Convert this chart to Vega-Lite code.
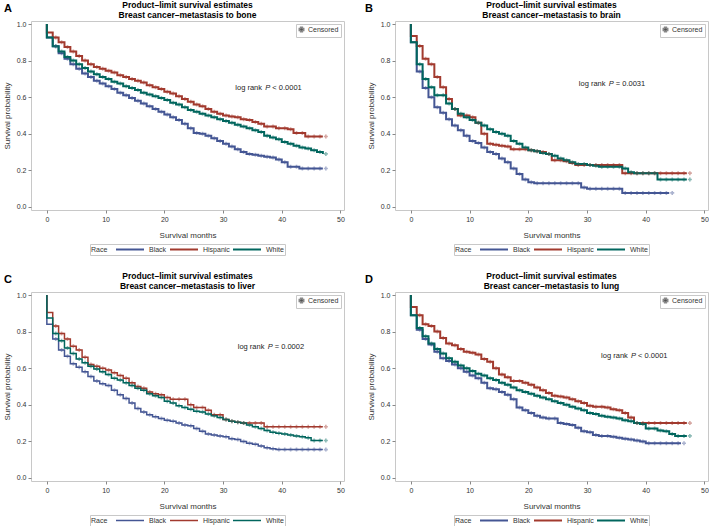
{
"$schema":"https://vega.github.io/schema/vega-lite/v6.json",
"background":"white",
"padding":{"left":2,"top":0,"right":0,"bottom":0},
"columns":2,
"spacing":{"column":19,"row":15},
"resolve":{"scale":{"color":"independent","shape":"independent"},"legend":{"color":"independent","shape":"independent"}},
"datasets":{
"A":[
{"r":"Black","t":0,"s":1},{"r":"Black","t":0,"s":0.927},{"r":"Black","t":1,"s":0.878},{"r":"Black","t":2,"s":0.84},{"r":"Black","t":3,"s":0.81},{"r":"Black","t":4,"s":0.78},{"r":"Black","t":5,"s":0.755},{"r":"Black","t":6,"s":0.73},{"r":"Black","t":7,"s":0.71},{"r":"Black","t":8,"s":0.69},{"r":"Black","t":9,"s":0.675},{"r":"Black","t":10,"s":0.66},{"r":"Black","t":11,"s":0.645},{"r":"Black","t":12,"s":0.625},{"r":"Black","t":13,"s":0.61},{"r":"Black","t":14,"s":0.595},{"r":"Black","t":15,"s":0.58},{"r":"Black","t":16,"s":0.565},{"r":"Black","t":17,"s":0.55},{"r":"Black","t":18,"s":0.535},{"r":"Black","t":19,"s":0.52},{"r":"Black","t":20,"s":0.505},{"r":"Black","t":21,"s":0.49},{"r":"Black","t":22,"s":0.475},{"r":"Black","t":23,"s":0.455},{"r":"Black","t":24,"s":0.43},{"r":"Black","t":25,"s":0.405},{"r":"Black","t":26,"s":0.4},{"r":"Black","t":27,"s":0.39},{"r":"Black","t":28,"s":0.375},{"r":"Black","t":29,"s":0.36},{"r":"Black","t":30,"s":0.345},{"r":"Black","t":31,"s":0.33},{"r":"Black","t":32,"s":0.315},{"r":"Black","t":33,"s":0.3},{"r":"Black","t":34,"s":0.29},{"r":"Black","t":35,"s":0.285},{"r":"Black","t":36,"s":0.28},{"r":"Black","t":37,"s":0.275},{"r":"Black","t":38,"s":0.27},{"r":"Black","t":39,"s":0.26},{"r":"Black","t":40,"s":0.245},{"r":"Black","t":41,"s":0.22},{"r":"Black","t":42,"s":0.22},{"r":"Black","t":43,"s":0.21},{"r":"Black","t":44,"s":0.21},{"r":"Black","t":45,"s":0.21},{"r":"Black","t":46,"s":0.21},{"r":"Black","t":47,"s":0.21},
{"r":"Hispanic","t":0,"s":1},{"r":"Hispanic","t":0,"s":0.954},{"r":"Hispanic","t":1,"s":0.927},{"r":"Hispanic","t":2,"s":0.9},{"r":"Hispanic","t":3,"s":0.875},{"r":"Hispanic","t":4,"s":0.85},{"r":"Hispanic","t":5,"s":0.825},{"r":"Hispanic","t":6,"s":0.8},{"r":"Hispanic","t":7,"s":0.78},{"r":"Hispanic","t":8,"s":0.765},{"r":"Hispanic","t":9,"s":0.755},{"r":"Hispanic","t":10,"s":0.745},{"r":"Hispanic","t":11,"s":0.735},{"r":"Hispanic","t":12,"s":0.72},{"r":"Hispanic","t":13,"s":0.71},{"r":"Hispanic","t":14,"s":0.7},{"r":"Hispanic","t":15,"s":0.69},{"r":"Hispanic","t":16,"s":0.68},{"r":"Hispanic","t":17,"s":0.665},{"r":"Hispanic","t":18,"s":0.655},{"r":"Hispanic","t":19,"s":0.645},{"r":"Hispanic","t":20,"s":0.63},{"r":"Hispanic","t":21,"s":0.62},{"r":"Hispanic","t":22,"s":0.605},{"r":"Hispanic","t":23,"s":0.59},{"r":"Hispanic","t":24,"s":0.575},{"r":"Hispanic","t":25,"s":0.56},{"r":"Hispanic","t":26,"s":0.55},{"r":"Hispanic","t":27,"s":0.535},{"r":"Hispanic","t":28,"s":0.52},{"r":"Hispanic","t":29,"s":0.51},{"r":"Hispanic","t":30,"s":0.5},{"r":"Hispanic","t":31,"s":0.495},{"r":"Hispanic","t":32,"s":0.49},{"r":"Hispanic","t":33,"s":0.48},{"r":"Hispanic","t":34,"s":0.475},{"r":"Hispanic","t":35,"s":0.465},{"r":"Hispanic","t":36,"s":0.455},{"r":"Hispanic","t":37,"s":0.44},{"r":"Hispanic","t":38,"s":0.44},{"r":"Hispanic","t":39,"s":0.43},{"r":"Hispanic","t":40,"s":0.43},{"r":"Hispanic","t":41,"s":0.425},{"r":"Hispanic","t":42,"s":0.405},{"r":"Hispanic","t":43,"s":0.405},{"r":"Hispanic","t":44,"s":0.385},{"r":"Hispanic","t":45,"s":0.385},{"r":"Hispanic","t":46,"s":0.385},{"r":"Hispanic","t":47,"s":0.385},
{"r":"White","t":0,"s":1},{"r":"White","t":0,"s":0.927},{"r":"White","t":1,"s":0.878},{"r":"White","t":2,"s":0.85},{"r":"White","t":3,"s":0.82},{"r":"White","t":4,"s":0.8},{"r":"White","t":5,"s":0.78},{"r":"White","t":6,"s":0.76},{"r":"White","t":7,"s":0.74},{"r":"White","t":8,"s":0.725},{"r":"White","t":9,"s":0.71},{"r":"White","t":10,"s":0.7},{"r":"White","t":11,"s":0.685},{"r":"White","t":12,"s":0.675},{"r":"White","t":13,"s":0.66},{"r":"White","t":14,"s":0.65},{"r":"White","t":15,"s":0.64},{"r":"White","t":16,"s":0.625},{"r":"White","t":17,"s":0.615},{"r":"White","t":18,"s":0.605},{"r":"White","t":19,"s":0.595},{"r":"White","t":20,"s":0.585},{"r":"White","t":21,"s":0.57},{"r":"White","t":22,"s":0.56},{"r":"White","t":23,"s":0.545},{"r":"White","t":24,"s":0.53},{"r":"White","t":25,"s":0.52},{"r":"White","t":26,"s":0.51},{"r":"White","t":27,"s":0.5},{"r":"White","t":28,"s":0.49},{"r":"White","t":29,"s":0.48},{"r":"White","t":30,"s":0.47},{"r":"White","t":31,"s":0.46},{"r":"White","t":32,"s":0.45},{"r":"White","t":33,"s":0.44},{"r":"White","t":34,"s":0.43},{"r":"White","t":35,"s":0.42},{"r":"White","t":36,"s":0.41},{"r":"White","t":37,"s":0.39},{"r":"White","t":38,"s":0.38},{"r":"White","t":39,"s":0.37},{"r":"White","t":40,"s":0.355},{"r":"White","t":41,"s":0.345},{"r":"White","t":42,"s":0.335},{"r":"White","t":43,"s":0.325},{"r":"White","t":44,"s":0.32},{"r":"White","t":45,"s":0.31},{"r":"White","t":46,"s":0.3},{"r":"White","t":47,"s":0.29}
],
"B":[
{"r":"Black","t":0,"s":1},{"r":"Black","t":0,"s":0.9},{"r":"Black","t":1,"s":0.74},{"r":"Black","t":2,"s":0.65},{"r":"Black","t":3,"s":0.6},{"r":"Black","t":4,"s":0.545},{"r":"Black","t":5,"s":0.515},{"r":"Black","t":6,"s":0.48},{"r":"Black","t":7,"s":0.445},{"r":"Black","t":8,"s":0.42},{"r":"Black","t":9,"s":0.39},{"r":"Black","t":10,"s":0.36},{"r":"Black","t":11,"s":0.35},{"r":"Black","t":12,"s":0.325},{"r":"Black","t":13,"s":0.3},{"r":"Black","t":14,"s":0.29},{"r":"Black","t":15,"s":0.265},{"r":"Black","t":16,"s":0.245},{"r":"Black","t":17,"s":0.21},{"r":"Black","t":18,"s":0.18},{"r":"Black","t":19,"s":0.15},{"r":"Black","t":20,"s":0.135},{"r":"Black","t":21,"s":0.13},{"r":"Black","t":22,"s":0.13},{"r":"Black","t":23,"s":0.13},{"r":"Black","t":24,"s":0.13},{"r":"Black","t":25,"s":0.13},{"r":"Black","t":26,"s":0.13},{"r":"Black","t":27,"s":0.13},{"r":"Black","t":28,"s":0.13},{"r":"Black","t":29,"s":0.107},{"r":"Black","t":30,"s":0.1},{"r":"Black","t":31,"s":0.1},{"r":"Black","t":32,"s":0.1},{"r":"Black","t":33,"s":0.1},{"r":"Black","t":34,"s":0.1},{"r":"Black","t":35,"s":0.1},{"r":"Black","t":36,"s":0.077},{"r":"Black","t":37,"s":0.077},{"r":"Black","t":38,"s":0.077},{"r":"Black","t":39,"s":0.077},{"r":"Black","t":40,"s":0.077},{"r":"Black","t":41,"s":0.077},{"r":"Black","t":42,"s":0.077},{"r":"Black","t":43,"s":0.077},{"r":"Black","t":44,"s":0.077},
{"r":"Hispanic","t":0,"s":1},{"r":"Hispanic","t":0,"s":0.935},{"r":"Hispanic","t":1,"s":0.88},{"r":"Hispanic","t":2,"s":0.81},{"r":"Hispanic","t":3,"s":0.78},{"r":"Hispanic","t":4,"s":0.71},{"r":"Hispanic","t":5,"s":0.655},{"r":"Hispanic","t":6,"s":0.59},{"r":"Hispanic","t":7,"s":0.535},{"r":"Hispanic","t":8,"s":0.5},{"r":"Hispanic","t":9,"s":0.5},{"r":"Hispanic","t":10,"s":0.49},{"r":"Hispanic","t":11,"s":0.46},{"r":"Hispanic","t":12,"s":0.4},{"r":"Hispanic","t":13,"s":0.345},{"r":"Hispanic","t":14,"s":0.34},{"r":"Hispanic","t":15,"s":0.335},{"r":"Hispanic","t":16,"s":0.33},{"r":"Hispanic","t":17,"s":0.315},{"r":"Hispanic","t":18,"s":0.315},{"r":"Hispanic","t":19,"s":0.315},{"r":"Hispanic","t":20,"s":0.31},{"r":"Hispanic","t":21,"s":0.305},{"r":"Hispanic","t":22,"s":0.3},{"r":"Hispanic","t":23,"s":0.29},{"r":"Hispanic","t":24,"s":0.255},{"r":"Hispanic","t":25,"s":0.255},{"r":"Hispanic","t":26,"s":0.25},{"r":"Hispanic","t":27,"s":0.24},{"r":"Hispanic","t":28,"s":0.23},{"r":"Hispanic","t":29,"s":0.23},{"r":"Hispanic","t":30,"s":0.23},{"r":"Hispanic","t":31,"s":0.23},{"r":"Hispanic","t":32,"s":0.23},{"r":"Hispanic","t":33,"s":0.23},{"r":"Hispanic","t":34,"s":0.23},{"r":"Hispanic","t":35,"s":0.23},{"r":"Hispanic","t":36,"s":0.185},{"r":"Hispanic","t":37,"s":0.185},{"r":"Hispanic","t":38,"s":0.185},{"r":"Hispanic","t":39,"s":0.185},{"r":"Hispanic","t":40,"s":0.185},{"r":"Hispanic","t":41,"s":0.185},{"r":"Hispanic","t":42,"s":0.185},{"r":"Hispanic","t":43,"s":0.185},{"r":"Hispanic","t":44,"s":0.185},{"r":"Hispanic","t":45,"s":0.185},{"r":"Hispanic","t":46,"s":0.185},{"r":"Hispanic","t":47,"s":0.185},
{"r":"White","t":0,"s":1},{"r":"White","t":0,"s":0.9},{"r":"White","t":1,"s":0.78},{"r":"White","t":2,"s":0.7},{"r":"White","t":3,"s":0.655},{"r":"White","t":4,"s":0.61},{"r":"White","t":5,"s":0.61},{"r":"White","t":6,"s":0.565},{"r":"White","t":7,"s":0.535},{"r":"White","t":8,"s":0.51},{"r":"White","t":9,"s":0.49},{"r":"White","t":10,"s":0.475},{"r":"White","t":11,"s":0.46},{"r":"White","t":12,"s":0.445},{"r":"White","t":13,"s":0.425},{"r":"White","t":14,"s":0.41},{"r":"White","t":15,"s":0.4},{"r":"White","t":16,"s":0.39},{"r":"White","t":17,"s":0.36},{"r":"White","t":18,"s":0.345},{"r":"White","t":19,"s":0.325},{"r":"White","t":20,"s":0.31},{"r":"White","t":21,"s":0.305},{"r":"White","t":22,"s":0.295},{"r":"White","t":23,"s":0.29},{"r":"White","t":24,"s":0.28},{"r":"White","t":25,"s":0.265},{"r":"White","t":26,"s":0.255},{"r":"White","t":27,"s":0.245},{"r":"White","t":28,"s":0.235},{"r":"White","t":29,"s":0.235},{"r":"White","t":30,"s":0.23},{"r":"White","t":31,"s":0.225},{"r":"White","t":32,"s":0.22},{"r":"White","t":33,"s":0.22},{"r":"White","t":34,"s":0.22},{"r":"White","t":35,"s":0.22},{"r":"White","t":36,"s":0.21},{"r":"White","t":37,"s":0.19},{"r":"White","t":38,"s":0.185},{"r":"White","t":39,"s":0.185},{"r":"White","t":40,"s":0.185},{"r":"White","t":41,"s":0.185},{"r":"White","t":42,"s":0.15},{"r":"White","t":43,"s":0.15},{"r":"White","t":44,"s":0.15},{"r":"White","t":45,"s":0.15},{"r":"White","t":46,"s":0.15},{"r":"White","t":47,"s":0.15}
],
"C":[
{"r":"Black","t":0,"s":1},{"r":"Black","t":0,"s":0.84},{"r":"Black","t":1,"s":0.76},{"r":"Black","t":2,"s":0.7},{"r":"Black","t":3,"s":0.665},{"r":"Black","t":4,"s":0.625},{"r":"Black","t":5,"s":0.605},{"r":"Black","t":6,"s":0.58},{"r":"Black","t":7,"s":0.555},{"r":"Black","t":8,"s":0.53},{"r":"Black","t":9,"s":0.515},{"r":"Black","t":10,"s":0.505},{"r":"Black","t":11,"s":0.48},{"r":"Black","t":12,"s":0.455},{"r":"Black","t":13,"s":0.435},{"r":"Black","t":14,"s":0.41},{"r":"Black","t":15,"s":0.38},{"r":"Black","t":16,"s":0.36},{"r":"Black","t":17,"s":0.345},{"r":"Black","t":18,"s":0.335},{"r":"Black","t":19,"s":0.325},{"r":"Black","t":20,"s":0.315},{"r":"Black","t":21,"s":0.31},{"r":"Black","t":22,"s":0.3},{"r":"Black","t":23,"s":0.29},{"r":"Black","t":24,"s":0.285},{"r":"Black","t":25,"s":0.27},{"r":"Black","t":26,"s":0.255},{"r":"Black","t":27,"s":0.24},{"r":"Black","t":28,"s":0.235},{"r":"Black","t":29,"s":0.23},{"r":"Black","t":30,"s":0.225},{"r":"Black","t":31,"s":0.215},{"r":"Black","t":32,"s":0.21},{"r":"Black","t":33,"s":0.2},{"r":"Black","t":34,"s":0.19},{"r":"Black","t":35,"s":0.185},{"r":"Black","t":36,"s":0.175},{"r":"Black","t":37,"s":0.165},{"r":"Black","t":38,"s":0.16},{"r":"Black","t":39,"s":0.155},{"r":"Black","t":40,"s":0.155},{"r":"Black","t":41,"s":0.155},{"r":"Black","t":42,"s":0.155},{"r":"Black","t":43,"s":0.155},{"r":"Black","t":44,"s":0.155},{"r":"Black","t":45,"s":0.155},{"r":"Black","t":46,"s":0.155},{"r":"Black","t":47,"s":0.155},
{"r":"Hispanic","t":0,"s":1},{"r":"Hispanic","t":0,"s":0.905},{"r":"Hispanic","t":1,"s":0.83},{"r":"Hispanic","t":2,"s":0.79},{"r":"Hispanic","t":3,"s":0.76},{"r":"Hispanic","t":4,"s":0.72},{"r":"Hispanic","t":5,"s":0.7},{"r":"Hispanic","t":6,"s":0.66},{"r":"Hispanic","t":7,"s":0.62},{"r":"Hispanic","t":8,"s":0.61},{"r":"Hispanic","t":9,"s":0.6},{"r":"Hispanic","t":10,"s":0.59},{"r":"Hispanic","t":11,"s":0.575},{"r":"Hispanic","t":12,"s":0.56},{"r":"Hispanic","t":13,"s":0.545},{"r":"Hispanic","t":14,"s":0.52},{"r":"Hispanic","t":15,"s":0.5},{"r":"Hispanic","t":16,"s":0.49},{"r":"Hispanic","t":17,"s":0.47},{"r":"Hispanic","t":18,"s":0.46},{"r":"Hispanic","t":19,"s":0.455},{"r":"Hispanic","t":20,"s":0.44},{"r":"Hispanic","t":21,"s":0.43},{"r":"Hispanic","t":22,"s":0.43},{"r":"Hispanic","t":23,"s":0.43},{"r":"Hispanic","t":24,"s":0.4},{"r":"Hispanic","t":25,"s":0.385},{"r":"Hispanic","t":26,"s":0.385},{"r":"Hispanic","t":27,"s":0.37},{"r":"Hispanic","t":28,"s":0.345},{"r":"Hispanic","t":29,"s":0.345},{"r":"Hispanic","t":30,"s":0.32},{"r":"Hispanic","t":31,"s":0.31},{"r":"Hispanic","t":32,"s":0.305},{"r":"Hispanic","t":33,"s":0.3},{"r":"Hispanic","t":34,"s":0.3},{"r":"Hispanic","t":35,"s":0.3},{"r":"Hispanic","t":36,"s":0.3},{"r":"Hispanic","t":37,"s":0.28},{"r":"Hispanic","t":38,"s":0.28},{"r":"Hispanic","t":39,"s":0.28},{"r":"Hispanic","t":40,"s":0.28},{"r":"Hispanic","t":41,"s":0.28},{"r":"Hispanic","t":42,"s":0.28},{"r":"Hispanic","t":43,"s":0.28},{"r":"Hispanic","t":44,"s":0.28},{"r":"Hispanic","t":45,"s":0.28},{"r":"Hispanic","t":46,"s":0.28},{"r":"Hispanic","t":47,"s":0.28},
{"r":"White","t":0,"s":1},{"r":"White","t":0,"s":0.875},{"r":"White","t":1,"s":0.79},{"r":"White","t":2,"s":0.75},{"r":"White","t":3,"s":0.71},{"r":"White","t":4,"s":0.68},{"r":"White","t":5,"s":0.65},{"r":"White","t":6,"s":0.63},{"r":"White","t":7,"s":0.61},{"r":"White","t":8,"s":0.595},{"r":"White","t":9,"s":0.58},{"r":"White","t":10,"s":0.565},{"r":"White","t":11,"s":0.545},{"r":"White","t":12,"s":0.535},{"r":"White","t":13,"s":0.52},{"r":"White","t":14,"s":0.505},{"r":"White","t":15,"s":0.49},{"r":"White","t":16,"s":0.48},{"r":"White","t":17,"s":0.46},{"r":"White","t":18,"s":0.45},{"r":"White","t":19,"s":0.44},{"r":"White","t":20,"s":0.42},{"r":"White","t":21,"s":0.41},{"r":"White","t":22,"s":0.395},{"r":"White","t":23,"s":0.385},{"r":"White","t":24,"s":0.375},{"r":"White","t":25,"s":0.365},{"r":"White","t":26,"s":0.36},{"r":"White","t":27,"s":0.35},{"r":"White","t":28,"s":0.34},{"r":"White","t":29,"s":0.33},{"r":"White","t":30,"s":0.32},{"r":"White","t":31,"s":0.31},{"r":"White","t":32,"s":0.305},{"r":"White","t":33,"s":0.3},{"r":"White","t":34,"s":0.29},{"r":"White","t":35,"s":0.28},{"r":"White","t":36,"s":0.27},{"r":"White","t":37,"s":0.26},{"r":"White","t":38,"s":0.25},{"r":"White","t":39,"s":0.245},{"r":"White","t":40,"s":0.24},{"r":"White","t":41,"s":0.235},{"r":"White","t":42,"s":0.23},{"r":"White","t":43,"s":0.225},{"r":"White","t":44,"s":0.22},{"r":"White","t":45,"s":0.205},{"r":"White","t":46,"s":0.205},{"r":"White","t":47,"s":0.205}
],
"D":[
{"r":"Black","t":0,"s":1},{"r":"Black","t":0,"s":0.89},{"r":"Black","t":1,"s":0.81},{"r":"Black","t":2,"s":0.76},{"r":"Black","t":3,"s":0.73},{"r":"Black","t":4,"s":0.69},{"r":"Black","t":5,"s":0.655},{"r":"Black","t":6,"s":0.64},{"r":"Black","t":7,"s":0.62},{"r":"Black","t":8,"s":0.6},{"r":"Black","t":9,"s":0.58},{"r":"Black","t":10,"s":0.56},{"r":"Black","t":11,"s":0.545},{"r":"Black","t":12,"s":0.52},{"r":"Black","t":13,"s":0.49},{"r":"Black","t":14,"s":0.485},{"r":"Black","t":15,"s":0.47},{"r":"Black","t":16,"s":0.455},{"r":"Black","t":17,"s":0.43},{"r":"Black","t":18,"s":0.385},{"r":"Black","t":19,"s":0.37},{"r":"Black","t":20,"s":0.355},{"r":"Black","t":21,"s":0.34},{"r":"Black","t":22,"s":0.33},{"r":"Black","t":23,"s":0.325},{"r":"Black","t":24,"s":0.325},{"r":"Black","t":25,"s":0.3},{"r":"Black","t":26,"s":0.295},{"r":"Black","t":27,"s":0.29},{"r":"Black","t":28,"s":0.275},{"r":"Black","t":29,"s":0.255},{"r":"Black","t":30,"s":0.25},{"r":"Black","t":31,"s":0.235},{"r":"Black","t":32,"s":0.23},{"r":"Black","t":33,"s":0.23},{"r":"Black","t":34,"s":0.225},{"r":"Black","t":35,"s":0.22},{"r":"Black","t":36,"s":0.215},{"r":"Black","t":37,"s":0.21},{"r":"Black","t":38,"s":0.205},{"r":"Black","t":39,"s":0.2},{"r":"Black","t":40,"s":0.19},{"r":"Black","t":41,"s":0.19},{"r":"Black","t":42,"s":0.19},{"r":"Black","t":43,"s":0.19},{"r":"Black","t":44,"s":0.19},{"r":"Black","t":45,"s":0.19},{"r":"Black","t":46,"s":0.19},
{"r":"Hispanic","t":0,"s":1},{"r":"Hispanic","t":0,"s":0.935},{"r":"Hispanic","t":1,"s":0.89},{"r":"Hispanic","t":2,"s":0.84},{"r":"Hispanic","t":3,"s":0.83},{"r":"Hispanic","t":4,"s":0.8},{"r":"Hispanic","t":5,"s":0.765},{"r":"Hispanic","t":6,"s":0.735},{"r":"Hispanic","t":7,"s":0.725},{"r":"Hispanic","t":8,"s":0.705},{"r":"Hispanic","t":9,"s":0.69},{"r":"Hispanic","t":10,"s":0.685},{"r":"Hispanic","t":11,"s":0.675},{"r":"Hispanic","t":12,"s":0.65},{"r":"Hispanic","t":13,"s":0.635},{"r":"Hispanic","t":14,"s":0.6},{"r":"Hispanic","t":15,"s":0.565},{"r":"Hispanic","t":16,"s":0.55},{"r":"Hispanic","t":17,"s":0.53},{"r":"Hispanic","t":18,"s":0.53},{"r":"Hispanic","t":19,"s":0.52},{"r":"Hispanic","t":20,"s":0.51},{"r":"Hispanic","t":21,"s":0.495},{"r":"Hispanic","t":22,"s":0.48},{"r":"Hispanic","t":23,"s":0.465},{"r":"Hispanic","t":24,"s":0.45},{"r":"Hispanic","t":25,"s":0.445},{"r":"Hispanic","t":26,"s":0.44},{"r":"Hispanic","t":27,"s":0.43},{"r":"Hispanic","t":28,"s":0.42},{"r":"Hispanic","t":29,"s":0.41},{"r":"Hispanic","t":30,"s":0.395},{"r":"Hispanic","t":31,"s":0.39},{"r":"Hispanic","t":32,"s":0.39},{"r":"Hispanic","t":33,"s":0.385},{"r":"Hispanic","t":34,"s":0.375},{"r":"Hispanic","t":35,"s":0.37},{"r":"Hispanic","t":36,"s":0.355},{"r":"Hispanic","t":37,"s":0.33},{"r":"Hispanic","t":38,"s":0.3},{"r":"Hispanic","t":39,"s":0.3},{"r":"Hispanic","t":40,"s":0.3},{"r":"Hispanic","t":41,"s":0.3},{"r":"Hispanic","t":42,"s":0.3},{"r":"Hispanic","t":43,"s":0.3},{"r":"Hispanic","t":44,"s":0.3},{"r":"Hispanic","t":45,"s":0.3},{"r":"Hispanic","t":46,"s":0.3},{"r":"Hispanic","t":47,"s":0.3},
{"r":"White","t":0,"s":1},{"r":"White","t":0,"s":0.89},{"r":"White","t":1,"s":0.82},{"r":"White","t":2,"s":0.775},{"r":"White","t":3,"s":0.735},{"r":"White","t":4,"s":0.705},{"r":"White","t":5,"s":0.68},{"r":"White","t":6,"s":0.655},{"r":"White","t":7,"s":0.635},{"r":"White","t":8,"s":0.615},{"r":"White","t":9,"s":0.6},{"r":"White","t":10,"s":0.585},{"r":"White","t":11,"s":0.57},{"r":"White","t":12,"s":0.56},{"r":"White","t":13,"s":0.545},{"r":"White","t":14,"s":0.535},{"r":"White","t":15,"s":0.52},{"r":"White","t":16,"s":0.51},{"r":"White","t":17,"s":0.495},{"r":"White","t":18,"s":0.48},{"r":"White","t":19,"s":0.47},{"r":"White","t":20,"s":0.46},{"r":"White","t":21,"s":0.45},{"r":"White","t":22,"s":0.44},{"r":"White","t":23,"s":0.43},{"r":"White","t":24,"s":0.42},{"r":"White","t":25,"s":0.41},{"r":"White","t":26,"s":0.4},{"r":"White","t":27,"s":0.39},{"r":"White","t":28,"s":0.38},{"r":"White","t":29,"s":0.37},{"r":"White","t":30,"s":0.355},{"r":"White","t":31,"s":0.35},{"r":"White","t":32,"s":0.34},{"r":"White","t":33,"s":0.335},{"r":"White","t":34,"s":0.33},{"r":"White","t":35,"s":0.325},{"r":"White","t":36,"s":0.315},{"r":"White","t":37,"s":0.31},{"r":"White","t":38,"s":0.3},{"r":"White","t":39,"s":0.295},{"r":"White","t":40,"s":0.27},{"r":"White","t":41,"s":0.27},{"r":"White","t":42,"s":0.26},{"r":"White","t":43,"s":0.255},{"r":"White","t":44,"s":0.24},{"r":"White","t":45,"s":0.23},{"r":"White","t":46,"s":0.23},{"r":"White","t":47,"s":0.23}
]
},
"concat":[
{"width":313,"height":189,
 "title":{"text":["Product–limit survival estimates","Breast cancer–metastasis to bone"]},
 "layer":[
  {"data":{"name":"A"},"mark":{"type":"line","interpolate":"step-after","strokeWidth":2},
   "encoding":{
    "x":{"field":"t","type":"quantitative","scale":{"domain":[-2.7,50.6],"nice":false,"zero":false},"axis":{"values":[0,10,20,30,40,50],"tickCount":10,"title":"Survival months","labelOverlap":false}},
    "y":{"field":"s","type":"quantitative","scale":{"domain":[-0.0165,1.0165],"nice":false,"zero":false},"axis":{"values":[0,0.2,0.4,0.6,0.8,1],"tickCount":10,"format":".1f","title":"Survival probability","labelOverlap":false}},
    "color":{"field":"r","type":"nominal","scale":{"domain":["Black","Hispanic","White"],"range":["#445694","#A23A2E","#01665E"]},
     "legend":{"orient":"bottom","direction":"horizontal","title":"Race","titleOrient":"left","titleAnchor":"middle","titleBaseline":"middle","titleFontSize":7,"titleFontWeight":"normal","titleColor":"#333","titlePadding":7,"symbolType":"stroke","symbolSize":784,"symbolStrokeWidth":2,"clipHeight":9,"labelFontSize":7,"labelColor":"#333","labelOffset":4,"columnPadding":2,"strokeColor":"#c8c8c8","padding":1,"offset":5}},
    "order":[{"field":"t","type":"quantitative"},{"field":"s","type":"quantitative","sort":"descending"}]}},
  {"data":{"name":"A"},"transform":[{"filter":"datum.t>0"}],"mark":{"type":"point","filled":true,"size":16,"opacity":0.45,"xOffset":3},
   "encoding":{"x":{"field":"t","type":"quantitative"},"y":{"field":"s","type":"quantitative"},
    "color":{"field":"r","type":"nominal","legend":null},
    "shape":{"datum":"Censored","type":"nominal","scale":{"range":["cross"]},"legend":{"orient":"top-right","title":null,"offset":3,"padding":2,"strokeColor":"#c8c8c8","labelFontSize":7,"labelColor":"#333","symbolType":"cross","symbolSize":20,"symbolFillColor":"#333","symbolOpacity":1,"labelOffset":3}}}},
  {"data":{"values":[{}]},"mark":{"type":"text","fontSize":11,"fontWeight":"bold","align":"left","baseline":"alphabetic","color":"#000"},"encoding":{"x":{"datum":-7.3,"type":"quantitative"},"y":{"datum":1.066,"type":"quantitative"},"text":{"value":"A"}}},
  {"data":{"values":[{}]},"mark":{"type":"text","fontSize":7.5,"align":"left","baseline":"middle","color":"#222"},"encoding":{"x":{"datum":32.1,"type":"quantitative"},"y":{"datum":0.65,"type":"quantitative"},"text":{"value":"log rank"}}},
  {"data":{"values":[{}]},"mark":{"type":"text","fontSize":7.5,"fontStyle":"italic","align":"left","baseline":"middle","color":"#222","dx":30},"encoding":{"x":{"datum":32.1,"type":"quantitative"},"y":{"datum":0.65,"type":"quantitative"},"text":{"value":"P"}}},
  {"data":{"values":[{}]},"mark":{"type":"text","fontSize":7.5,"align":"left","baseline":"middle","color":"#222","dx":37},"encoding":{"x":{"datum":32.1,"type":"quantitative"},"y":{"datum":0.65,"type":"quantitative"},"text":{"value":"< 0.0001"}}}
 ]},
{"width":313,"height":189,
 "title":{"text":["Product–limit survival estimates","Breast cancer–metastasis to brain"]},
 "layer":[
  {"data":{"name":"B"},"mark":{"type":"line","interpolate":"step-after","strokeWidth":2},
   "encoding":{
    "x":{"field":"t","type":"quantitative","scale":{"domain":[-2.7,50.6],"nice":false,"zero":false},"axis":{"values":[0,10,20,30,40,50],"tickCount":10,"title":"Survival months","labelOverlap":false}},
    "y":{"field":"s","type":"quantitative","scale":{"domain":[-0.0165,1.0165],"nice":false,"zero":false},"axis":{"values":[0,0.2,0.4,0.6,0.8,1],"tickCount":10,"format":".1f","title":"Survival probability","labelOverlap":false}},
    "color":{"field":"r","type":"nominal","scale":{"domain":["Black","Hispanic","White"],"range":["#445694","#A23A2E","#01665E"]},
     "legend":{"orient":"bottom","direction":"horizontal","title":"Race","titleOrient":"left","titleAnchor":"middle","titleBaseline":"middle","titleFontSize":7,"titleFontWeight":"normal","titleColor":"#333","titlePadding":7,"symbolType":"stroke","symbolSize":784,"symbolStrokeWidth":2,"clipHeight":9,"labelFontSize":7,"labelColor":"#333","labelOffset":4,"columnPadding":2,"strokeColor":"#c8c8c8","padding":1,"offset":5}},
    "order":[{"field":"t","type":"quantitative"},{"field":"s","type":"quantitative","sort":"descending"}]}},
  {"data":{"name":"B"},"transform":[{"filter":"datum.t>0"}],"mark":{"type":"point","filled":true,"size":16,"opacity":0.45,"xOffset":3},
   "encoding":{"x":{"field":"t","type":"quantitative"},"y":{"field":"s","type":"quantitative"},
    "color":{"field":"r","type":"nominal","legend":null},
    "shape":{"datum":"Censored","type":"nominal","scale":{"range":["cross"]},"legend":{"orient":"top-right","title":null,"offset":3,"padding":2,"strokeColor":"#c8c8c8","labelFontSize":7,"labelColor":"#333","symbolType":"cross","symbolSize":20,"symbolFillColor":"#333","symbolOpacity":1,"labelOffset":3}}}},
  {"data":{"values":[{}]},"mark":{"type":"text","fontSize":11,"fontWeight":"bold","align":"left","baseline":"alphabetic","color":"#000"},"encoding":{"x":{"datum":-7.8,"type":"quantitative"},"y":{"datum":1.066,"type":"quantitative"},"text":{"value":"B"}}},
  {"data":{"values":[{}]},"mark":{"type":"text","fontSize":7.5,"align":"left","baseline":"middle","color":"#222"},"encoding":{"x":{"datum":28.6,"type":"quantitative"},"y":{"datum":0.672,"type":"quantitative"},"text":{"value":"log rank"}}},
  {"data":{"values":[{}]},"mark":{"type":"text","fontSize":7.5,"fontStyle":"italic","align":"left","baseline":"middle","color":"#222","dx":30},"encoding":{"x":{"datum":28.6,"type":"quantitative"},"y":{"datum":0.672,"type":"quantitative"},"text":{"value":"P"}}},
  {"data":{"values":[{}]},"mark":{"type":"text","fontSize":7.5,"align":"left","baseline":"middle","color":"#222","dx":37},"encoding":{"x":{"datum":28.6,"type":"quantitative"},"y":{"datum":0.672,"type":"quantitative"},"text":{"value":"= 0.0031"}}}
 ]},
{"width":313,"height":189,
 "title":{"text":["Product–limit survival estimates","Breast cancer–metastasis to liver"]},
 "layer":[
  {"data":{"name":"C"},"mark":{"type":"line","interpolate":"step-after","strokeWidth":1.5},
   "encoding":{
    "x":{"field":"t","type":"quantitative","scale":{"domain":[-2.7,50.6],"nice":false,"zero":false},"axis":{"values":[0,10,20,30,40,50],"tickCount":10,"title":"Survival months","labelOverlap":false}},
    "y":{"field":"s","type":"quantitative","scale":{"domain":[-0.0165,1.0165],"nice":false,"zero":false},"axis":{"values":[0,0.2,0.4,0.6,0.8,1],"tickCount":10,"format":".1f","title":"Survival probability","labelOverlap":false}},
    "color":{"field":"r","type":"nominal","scale":{"domain":["Black","Hispanic","White"],"range":["#445694","#A23A2E","#01665E"]},
     "legend":{"orient":"bottom","direction":"horizontal","title":"Race","titleOrient":"left","titleAnchor":"middle","titleBaseline":"middle","titleFontSize":7,"titleFontWeight":"normal","titleColor":"#333","titlePadding":7,"symbolType":"stroke","symbolSize":784,"symbolStrokeWidth":1.5,"clipHeight":9,"labelFontSize":7,"labelColor":"#333","labelOffset":4,"columnPadding":2,"strokeColor":"#c8c8c8","padding":1,"offset":5}},
    "order":[{"field":"t","type":"quantitative"},{"field":"s","type":"quantitative","sort":"descending"}]}},
  {"data":{"name":"C"},"transform":[{"filter":"datum.t>0"}],"mark":{"type":"point","filled":true,"size":16,"opacity":0.45,"xOffset":3},
   "encoding":{"x":{"field":"t","type":"quantitative"},"y":{"field":"s","type":"quantitative"},
    "color":{"field":"r","type":"nominal","legend":null},
    "shape":{"datum":"Censored","type":"nominal","scale":{"range":["cross"]},"legend":{"orient":"top-right","title":null,"offset":3,"padding":2,"strokeColor":"#c8c8c8","labelFontSize":7,"labelColor":"#333","symbolType":"cross","symbolSize":20,"symbolFillColor":"#333","symbolOpacity":1,"labelOffset":3}}}},
  {"data":{"values":[{}]},"mark":{"type":"text","fontSize":11,"fontWeight":"bold","align":"left","baseline":"alphabetic","color":"#000"},"encoding":{"x":{"datum":-7.3,"type":"quantitative"},"y":{"datum":1.066,"type":"quantitative"},"text":{"value":"C"}}},
  {"data":{"values":[{}]},"mark":{"type":"text","fontSize":7.5,"align":"left","baseline":"middle","color":"#222"},"encoding":{"x":{"datum":32.5,"type":"quantitative"},"y":{"datum":0.714,"type":"quantitative"},"text":{"value":"log rank"}}},
  {"data":{"values":[{}]},"mark":{"type":"text","fontSize":7.5,"fontStyle":"italic","align":"left","baseline":"middle","color":"#222","dx":30},"encoding":{"x":{"datum":32.5,"type":"quantitative"},"y":{"datum":0.714,"type":"quantitative"},"text":{"value":"P"}}},
  {"data":{"values":[{}]},"mark":{"type":"text","fontSize":7.5,"align":"left","baseline":"middle","color":"#222","dx":37},"encoding":{"x":{"datum":32.5,"type":"quantitative"},"y":{"datum":0.714,"type":"quantitative"},"text":{"value":"= 0.0002"}}}
 ]},
{"width":313,"height":189,
 "title":{"text":["Product–limit survival estimates","Breast cancer–metastasis to lung"]},
 "layer":[
  {"data":{"name":"D"},"mark":{"type":"line","interpolate":"step-after","strokeWidth":2},
   "encoding":{
    "x":{"field":"t","type":"quantitative","scale":{"domain":[-2.7,50.6],"nice":false,"zero":false},"axis":{"values":[0,10,20,30,40,50],"tickCount":10,"title":"Survival months","labelOverlap":false}},
    "y":{"field":"s","type":"quantitative","scale":{"domain":[-0.0165,1.0165],"nice":false,"zero":false},"axis":{"values":[0,0.2,0.4,0.6,0.8,1],"tickCount":10,"format":".1f","title":"Survival probability","labelOverlap":false}},
    "color":{"field":"r","type":"nominal","scale":{"domain":["Black","Hispanic","White"],"range":["#445694","#A23A2E","#01665E"]},
     "legend":{"orient":"bottom","direction":"horizontal","title":"Race","titleOrient":"left","titleAnchor":"middle","titleBaseline":"middle","titleFontSize":7,"titleFontWeight":"normal","titleColor":"#333","titlePadding":7,"symbolType":"stroke","symbolSize":784,"symbolStrokeWidth":2,"clipHeight":9,"labelFontSize":7,"labelColor":"#333","labelOffset":4,"columnPadding":2,"strokeColor":"#c8c8c8","padding":1,"offset":5}},
    "order":[{"field":"t","type":"quantitative"},{"field":"s","type":"quantitative","sort":"descending"}]}},
  {"data":{"name":"D"},"transform":[{"filter":"datum.t>0"}],"mark":{"type":"point","filled":true,"size":16,"opacity":0.45,"xOffset":3},
   "encoding":{"x":{"field":"t","type":"quantitative"},"y":{"field":"s","type":"quantitative"},
    "color":{"field":"r","type":"nominal","legend":null},
    "shape":{"datum":"Censored","type":"nominal","scale":{"range":["cross"]},"legend":{"orient":"top-right","title":null,"offset":3,"padding":2,"strokeColor":"#c8c8c8","labelFontSize":7,"labelColor":"#333","symbolType":"cross","symbolSize":20,"symbolFillColor":"#333","symbolOpacity":1,"labelOffset":3}}}},
  {"data":{"values":[{}]},"mark":{"type":"text","fontSize":11,"fontWeight":"bold","align":"left","baseline":"alphabetic","color":"#000"},"encoding":{"x":{"datum":-7.8,"type":"quantitative"},"y":{"datum":1.066,"type":"quantitative"},"text":{"value":"D"}}},
  {"data":{"values":[{}]},"mark":{"type":"text","fontSize":7.5,"align":"left","baseline":"middle","color":"#222"},"encoding":{"x":{"datum":32.4,"type":"quantitative"},"y":{"datum":0.665,"type":"quantitative"},"text":{"value":"log rank"}}},
  {"data":{"values":[{}]},"mark":{"type":"text","fontSize":7.5,"fontStyle":"italic","align":"left","baseline":"middle","color":"#222","dx":30},"encoding":{"x":{"datum":32.4,"type":"quantitative"},"y":{"datum":0.665,"type":"quantitative"},"text":{"value":"P"}}},
  {"data":{"values":[{}]},"mark":{"type":"text","fontSize":7.5,"align":"left","baseline":"middle","color":"#222","dx":37},"encoding":{"x":{"datum":32.4,"type":"quantitative"},"y":{"datum":0.665,"type":"quantitative"},"text":{"value":"< 0.0001"}}}
 ]}
],
"config":{
 "font":"Liberation Sans",
 "view":{"stroke":"#c8c8c8","strokeWidth":1},
 "title":{"fontSize":8.5,"fontWeight":"bold","lineHeight":10,"anchor":"middle","color":"#000","offset":-17,"frame":"group"},
 "axis":{"domain":false,"grid":false,"tickColor":"#888","tickSize":3,"labelFontSize":7,"labelColor":"#333","titleFontSize":8,"titleFontWeight":"normal","titleColor":"#333","labelPadding":2},
 "axisX":{"titlePadding":9},
 "axisY":{"titlePadding":5},
 "legend":{"layout":{"bottom":{"anchor":"middle"}}}
}
}
